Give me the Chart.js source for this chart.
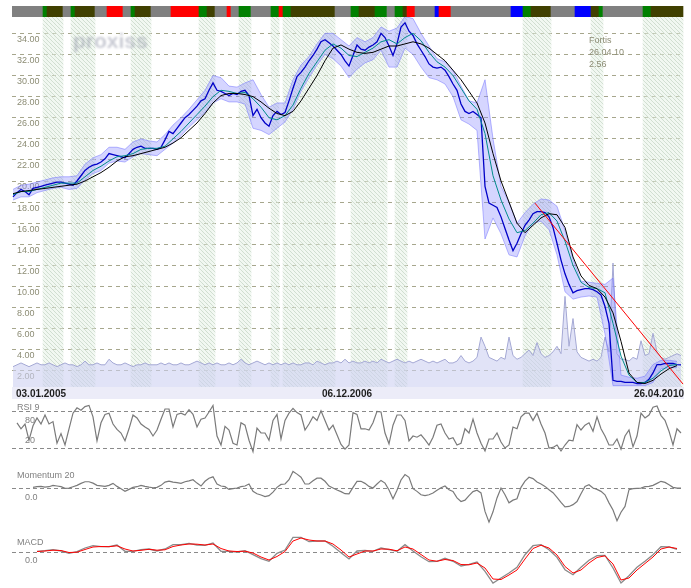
<!DOCTYPE html>
<html>
<head>
<meta charset="utf-8">
<script src="https://cdn.jsdelivr.net/npm/chart.js@4.4.1/dist/chart.umd.min.js"></script>
<style>
  body { margin: 0; background: #fff; }
  #wrap { position: relative; width: 691px; height: 588px; font-family: "Liberation Sans", Arial, sans-serif; }
  .box { position: absolute; left: 0; width: 691px; }
  .txt { position: absolute; font-size: 9px; line-height: 12px; color: #808080; white-space: nowrap; }
  #mark { position: absolute; left: 73px; top: 29px; font: bold 21px "Liberation Sans", Arial, sans-serif; color: rgba(135, 140, 160, 0.45); filter: blur(1.3px); }
</style>
</head>
<body>
<div id="wrap">
  <div class="box" style="top:0;height:17px"><canvas id="bandChart"></canvas></div>
  <div class="box" style="top:17px;height:382px"><canvas id="priceChart"></canvas></div>
  <div class="box" style="top:400px;height:62px"><canvas id="rsiChart"></canvas></div>
  <div class="box" style="top:462px;height:66px"><canvas id="momChart"></canvas></div>
  <div class="box" style="top:528px;height:60px"><canvas id="macdChart"></canvas></div>
  <div id="mark">proxiss</div>
  <div class="txt" id="quote" style="left:589px;top:34px;color:#8c8c74"></div>
  <div class="txt" style="left:17px;top:401px">RSI 9</div>
  <div class="txt" style="left:17px;top:469px">Momentum 20</div>
  <div class="txt" style="left:17px;top:536px">MACD</div>
</div>
<script>
// Fortis, 03.01.2005 - 26.04.2010 (one point = one bar slot on the x axis)

const quoteName = "Fortis";
const quoteDate = "26.04.10";
const dateLabels = ["03.01.2005", "06.12.2006", "26.04.2010"];
const dateIdx = [0, 82.75, 167];
const priceTicks = [2, 4, 6, 8, 10, 12, 14, 16, 18, 20, 22, 24, 26, 28, 30, 32, 34];

const close = [
  18.5, 18.9, 19.2, 19.0, 18.7, 19.3, 19.4, 19.5, 19.6, 19.7,
  19.8, 19.9, 19.9, 19.8, 19.7, 19.6, 20.0, 20.5, 21.0, 21.3,
  21.5, 21.6, 21.8, 22.1, 22.6, 22.5, 22.4, 22.3, 22.2, 22.6,
  23.0, 23.2, 23.3, 23.1, 23.1, 23.1, 23.0, 23.2, 23.9, 24.7,
  24.5, 25.0, 25.5, 26.0, 26.3, 26.7, 27.1, 27.6, 27.8, 28.6,
  29.3, 28.6, 28.5, 28.3, 28.1, 28.3, 28.2, 28.5, 28.6, 28.1,
  26.2, 26.8, 26.0, 25.5, 25.2, 26.2, 26.6, 26.3, 26.5, 27.6,
  28.8, 29.9, 30.3, 30.8, 31.4, 31.9, 32.5, 33.2, 33.4, 33.1,
  32.8, 32.4, 32.0, 31.4, 30.9, 31.9, 32.9, 32.5, 32.4, 32.7,
  32.9, 33.2, 34.0, 33.6, 32.8, 31.9, 33.0, 34.6, 35.0, 34.2,
  33.8, 33.0, 32.4, 31.8, 31.1, 30.8, 30.7, 30.8, 30.5, 29.9,
  29.2, 28.6, 27.3, 26.6, 26.4, 26.6, 26.3, 26.0, 19.5, 17.9,
  17.7, 17.5, 16.6, 15.5, 14.4, 13.4, 14.1, 15.0, 15.8, 16.3,
  16.9, 17.1, 17.1, 17.0, 16.6, 15.6, 14.1, 12.5, 11.2, 10.2,
  9.4, 9.6, 9.7, 9.8, 9.8, 9.7, 9.5, 9.2, 8.1, 6.5,
  1.1, 1.0, 1.0, 0.9, 0.9, 0.9, 0.8, 0.8, 0.9, 1.2,
  1.8, 2.6, 2.6, 2.7, 2.7, 2.7, 2.6, 2.56
];

// moving averages and envelope: one value every 2 slots
const maStep = 2;
const maFast = [
  18.7, 19.0, 19.0, 19.2, 19.4, 19.6, 19.8, 19.8, 19.8, 20.4,
  21.0, 21.4, 21.9, 22.3, 22.4, 22.6, 23.0, 23.1, 23.1, 23.3,
  24.0, 24.7, 25.5, 26.3, 27.1, 28.0, 28.6, 28.5, 28.3, 28.4,
  27.8, 27.0, 26.0, 25.8, 26.2, 27.2, 28.8, 30.2, 31.3, 32.4,
  33.0, 32.6, 31.9, 31.8, 32.2, 32.6, 33.2, 33.4, 33.0, 33.6,
  34.0, 33.3, 32.2, 31.3, 30.8, 30.0, 28.8, 27.6, 26.8, 24.5,
  20.5, 18.2, 16.4, 15.1, 15.3, 16.0, 16.8, 17.0, 16.2, 14.3,
  12.0, 10.4, 9.9, 9.8, 9.4, 6.5, 3.4, 1.6, 0.9, 0.9,
  1.3, 2.0, 2.5, 2.6
];
const maSlow = [
  18.8, 19.0, 19.1, 19.2, 19.3, 19.4, 19.5, 19.6, 19.7, 20.0,
  20.4, 20.8, 21.3, 21.9, 22.3, 22.4, 22.6, 22.8, 23.0, 23.2,
  23.6, 24.1, 24.8, 25.5, 26.4, 27.4, 28.1, 28.3, 28.3, 28.2,
  28.0, 27.5, 26.9, 26.4, 26.2, 26.6, 27.6, 28.8, 30.0, 31.4,
  32.6, 32.9, 32.5, 32.2, 32.1, 32.2, 32.5, 32.8, 32.8, 33.0,
  33.2, 33.0, 32.6, 32.0, 31.4, 30.5, 29.6, 28.5, 27.4, 25.5,
  22.6, 20.0, 18.0, 16.0, 15.1, 15.8, 16.5, 16.9, 16.8, 15.6,
  12.8, 11.0, 10.1, 9.8, 9.0, 7.5, 4.8, 1.8, 0.9, 0.8,
  1.1, 1.7, 2.2, 2.5
];
const bandUpper = [
  19.2, 19.6, 19.7, 19.9, 20.1, 20.3, 20.4, 20.4, 20.5, 21.6,
  22.2, 22.5, 23.2, 23.2, 23.0, 23.7, 24.0, 23.8, 23.7, 24.4,
  25.3, 26.0, 26.8, 27.7, 28.6, 30.0, 29.8, 29.0, 28.9, 29.3,
  29.6, 28.2, 27.0, 27.4, 27.4, 29.6, 31.0, 31.8, 33.0, 34.0,
  34.0, 33.4, 32.8, 33.6, 33.2, 33.6, 34.6, 34.2, 34.5, 35.6,
  35.4, 34.0, 32.8, 31.6, 31.3, 30.5, 29.0, 27.6, 27.4, 29.6,
  24.0, 19.5, 18.0, 16.0, 17.0, 17.8, 18.3, 18.2, 17.6, 15.3,
  12.6, 10.5, 10.4, 10.3, 10.2, 10.8, 1.6, 1.4, 1.3, 1.5,
  2.6, 3.0, 3.0, 2.9
];
const bandLower = [
  18.2, 18.5, 18.5, 18.9, 19.1, 19.3, 19.4, 19.2, 19.3, 20.1,
  20.7, 21.0, 21.7, 21.9, 21.8, 22.3, 22.6, 22.5, 22.4, 23.0,
  23.6, 24.3, 25.1, 25.8, 26.5, 27.4, 27.8, 27.5, 27.5, 27.3,
  25.0, 24.8, 24.4, 25.0, 25.6, 26.8, 28.5, 29.8, 31.0, 32.0,
  31.6, 30.9, 29.8, 30.6, 31.2, 31.5, 32.4, 30.8, 30.8, 32.6,
  32.0, 30.8, 29.8, 29.6, 29.2, 28.0, 25.8, 25.4, 24.8, 14.5,
  16.5, 15.0, 13.0, 12.8, 14.8, 16.0, 16.2, 15.4, 13.0, 9.5,
  8.8, 9.0, 9.1, 9.0, 5.5, 0.6, 0.6, 0.6, 0.6, 0.6,
  0.9, 2.2, 2.3, 2.3
];

const volume = [
  1.1, 1.2, 1.3, 1.2, 1.1, 1.2, 1.3, 1.2, 1.2, 1.3,
  1.2, 1.1, 1.2, 1.3, 1.2, 1.2, 1.1, 1.2, 1.4, 1.2,
  1.2, 1.3, 1.2, 1.2, 1.5, 1.3, 1.2, 1.2, 1.3, 1.2,
  1.1, 1.2, 1.2, 1.3, 1.2, 1.2, 1.2, 1.3, 1.2, 1.3,
  1.2, 1.2, 1.3, 1.2, 1.2, 1.3, 1.4, 1.3, 1.2, 1.3,
  1.2, 1.3, 1.2, 1.2, 1.3, 1.2, 1.3, 1.5, 1.3, 1.2,
  1.3, 1.4, 1.3, 1.2, 1.3, 1.2, 1.3, 1.2, 1.3, 1.2,
  1.3, 1.2, 1.2, 1.3, 1.3, 1.2, 1.4, 1.3, 1.2, 1.3,
  1.3, 1.4, 1.3, 1.5, 1.3, 1.4, 1.3, 1.3, 1.4, 1.3,
  1.4, 1.3, 1.5, 1.4, 1.3, 1.4, 1.5, 1.4, 1.3, 1.4,
  1.3, 1.4, 1.5, 1.4, 1.3, 1.4, 1.3, 1.4, 1.5, 1.3,
  1.3, 1.4, 1.7, 1.4, 1.3, 1.4, 1.6, 2.7, 2.2, 1.6,
  1.5, 1.4, 1.6, 1.5, 2.7, 1.7, 1.5, 1.6, 1.8, 2.0,
  1.7, 2.4, 1.8, 1.6, 1.7, 1.9, 2.2, 1.8, 4.9, 2.2,
  3.7, 1.9, 1.6, 1.5, 1.4, 1.5, 1.4, 1.6, 2.7, 1.9,
  6.7, 1.8, 1.5, 1.5, 1.4, 1.6, 1.5, 2.5, 1.7, 1.8,
  2.9, 1.9, 1.6, 1.5, 1.6, 1.7, 1.8, 1.7
];

const trendIdx = [130.5, 167.5];
const trendVal = [17.9, 0.75];

// signal strip on top: [code, number of slots]
const signalColors = { g: "#808080", G: "#008000", O: "#404000", R: "#ff0000", B: "#0000ff" };
const signalRuns = [
  ["g", 8], ["G", 1], ["O", 4], ["g", 2], ["G", 1], ["O", 5], ["g", 3], ["R", 4], ["g", 2], ["G", 1],
  ["O", 4], ["g", 5], ["R", 7], ["G", 2], ["O", 2], ["g", 3], ["R", 1], ["g", 2], ["G", 3], ["g", 5],
  ["G", 2], ["R", 1], ["G", 2], ["O", 11], ["g", 4], ["G", 2], ["O", 4], ["G", 3], ["g", 2], ["G", 2],
  ["O", 1], ["R", 2], ["g", 5], ["B", 1], ["R", 3], ["g", 15], ["B", 3], ["G", 2], ["O", 5], ["g", 6],
  ["B", 4], ["O", 2], ["G", 1], ["g", 10], ["G", 2], ["O", 8]
];

const rsiStart = 1;
const rsiLevels = [80, 20];
const rsi = [
  62, 52, 60, 33, 57, 70, 60, 75, 60,
  64, 28, 44, 25, 52, 78, 87, 83, 89, 91,
  72, 32, 62, 76, 78, 60, 51, 45, 32, 52,
  75, 70, 60, 55, 51, 40, 50, 68, 85, 85,
  55, 76, 78, 75, 84, 76, 55, 68, 70, 80,
  91, 40, 25, 56, 50, 28, 25, 62, 58, 33,
  14, 53, 45, 45, 33, 66, 76, 35, 66, 78,
  86, 79, 75, 50, 60, 72, 66, 82, 66, 50,
  58, 42, 26, 18, 25, 79, 76, 52, 52, 50,
  62, 81, 80, 45, 27, 58, 75, 75, 66, 32,
  40, 38, 42, 34, 25, 38, 58, 60, 45, 35,
  37, 25, 28, 52, 45, 68, 45, 28, 15, 35,
  35, 45, 30, 20, 25, 55, 52, 72, 78, 78,
  66, 78, 60, 45, 20, 21, 25, 15, 25, 33,
  32, 59, 50, 58, 62, 48, 72, 52, 40, 25,
  25, 35, 18, 40, 50, 22, 40, 78, 70, 75,
  88, 90, 74, 66, 48, 25, 52, 45
];

const momStart = 5;
const momentum = [
  0.15, 0.3, 0.37, 0.2, 0.3,
  0.6, 0.45, 0.3, -0.07, 0, 0.3, 0.6, 1.04, 1.4, 1.4,
  1.1, 0.6, 0.5, 0.37, 0.6, 1.04, 0.37, -0.15, -0.74, -0.3,
  0.15, 0.3, 0.6, 0.37, 0.2, 0.07, 0.15, 0.6, 1.33, 1.55,
  1.33, 1.2, 1.04, 1.4, 1.6, 1.85, 1.1, 0.45, 1.5, 2.2,
  2.5, 0.9, 0.45, 0.3, -0.3, -0.15, 0, 0.3, 0.45, 0.9,
  -0.74, -1.26, -1.55, -1.9, -1.7, -0.9, 0.15, 0.8, 0.9, 1.85,
  3.7, 3.1, 2.4, 0.9, 0.9, 1.6, 2.2, 2.2, 1.5, 0.45,
  0, -0.45, -0.8, -1.26, -1.3, 0.15, 1.5, 1.5, 1.04, 0.37,
  0, 0.9, 1.7, 1.1, -0.45, -2.4, -0.5, 1.8, 3.0, 2.4,
  -0.15, -0.74, -1.5, -1.7, -1.5, -1.1, -0.5, 0.07, 0.45, -0.37,
  -0.74, -2.2, -3.0, -2.7, -1.7, -0.8, -0.5, -1.1, -5.2, -7.6,
  -5.3, -2.2, 0, -1.5, -3.3, -2.7, -2.4, 0.15, 1.55, 2.4,
  2.1, 1.33, 0.9, 0.37, -0.37, -1.04, -2.1, -3.2, -4.2, -4.1,
  -3.7, -3.0, -1.26, 0.37, 0.74, 0, -0.3, -0.74, -1.5, -3.3,
  -4.9, -7.3, -5.4, -4.1, -0.37, -0.15, -0.07, 0, 0.3, 0.37,
  0.6, 1.04, 1.5, 1.26, 0.74, 0.15, 0, 0
];

const macdStart = 6;
const macdStep = 2;
const macd = [
  0.07, 0.13, 0.23, 0.1, -0.13, 0.03, 0.4, 0.63, 0.53, 0.53,
  0.7, 0.07, 0.07, 0.23, 0.3, 0.1, 0.3, 0.73, 0.73, 0.87,
  0.7, 0.67, 0.9, 0.07, 0.07, 0, 0.13, -0.27, -0.67, -0.93,
  -0.13, 0.2, 1.47, 1.47, 1.03, 1.1, 1.1, 0.57, -0.07, -0.7,
  0.1, 0.15, 0.07, 0.4, 0.23, 0.07, 0.73, 0.1, -0.47, -0.97,
  -0.93, -0.63, -0.93, -1.4, -1.23, -1.0, -1.93, -3.1, -2.6, -2.1,
  -1.53, -0.27, 0.63, 0.73, 0.23, -0.53, -1.77, -2.27, -1.53, -0.83,
  -0.37, -0.33, -1.6, -3.1, -2.37, -1.53, -0.93, -0.27, 0.53, 0.5,
  0.27
];
const macdSignal = [
  0.05, 0.1, 0.18, 0.15, -0.05, -0.02, 0.25, 0.5, 0.55, 0.53,
  0.62, 0.3, 0.1, 0.17, 0.27, 0.18, 0.22, 0.55, 0.7, 0.8,
  0.78, 0.7, 0.8, 0.35, 0.1, 0.05, 0.08, -0.1, -0.5, -0.8,
  -0.45, 0.05, 1.1, 1.4, 1.2, 1.1, 1.1, 0.8, 0.2, -0.5,
  -0.2, 0.1, 0.1, 0.3, 0.28, 0.12, 0.5, 0.3, -0.25, -0.8,
  -0.92, -0.75, -0.85, -1.25, -1.28, -1.1, -1.6, -2.7, -2.75, -2.3,
  -1.8, -0.7, 0.35, 0.68, 0.4, -0.3, -1.45, -2.1, -1.8, -1.1,
  -0.55, -0.38, -1.2, -2.8, -2.6, -1.8, -1.15, -0.5, 0.3, 0.5,
  0.35
];

Chart.defaults.font.family = '"Liberation Sans", Arial, sans-serif';

function series(values, start, step) {
  return values.map((v, k) => ({ x: start + k * step, y: v }));
}

const cells = [];
signalRuns.forEach(([code, n]) => {
  for (let k = 0; k < n; k++) cells.push(code);
});

const common = {
  responsive: true,
  maintainAspectRatio: false,
  animation: false,
  events: [],
  elements: { point: { radius: 0 }, line: { tension: 0 } },
  plugins: { legend: { display: false }, tooltip: { enabled: false } },
};

// axes take no room: labels sit inside the plot
function flatY(s) {
  s.width = 0;
  s.paddingTop = 0;
  s.paddingBottom = 0;
}

function hiddenX() {
  return { type: "linear", min: -0.25, max: 167.75, offset: false, display: false };
}

function hatch() {
  const c = document.createElement("canvas");
  c.width = 4;
  c.height = 4;
  const g = c.getContext("2d");
  g.fillStyle = "rgba(226, 240, 226, 0.45)";
  g.fillRect(0, 0, 4, 4);
  g.strokeStyle = "rgba(196, 212, 196, 0.7)";
  g.lineWidth = 1;
  g.beginPath();
  g.moveTo(-1, -1);
  g.lineTo(5, 5);
  g.stroke();
  return g.createPattern(c, "repeat");
}

function levelAxis(min, max, value, offset) {
  return {
    position: "left",
    min: min,
    max: max,
    afterBuildTicks: (s) => { s.ticks = [{ value: value }]; },
    afterFit: flatY,
    grid: { color: "#8a8a8a", drawTicks: false },
    border: { display: false, dash: [4, 3] },
    ticks: {
      mirror: true,
      padding: 13,
      labelOffset: offset,
      color: "#808080",
      font: { size: 9 },
      callback: (v) => (Math.abs(max) > 50 ? String(v) : v.toFixed(1)),
    },
  };
}

const axisShade = {
  id: "axisShade",
  beforeDraw(chart) {
    const s = chart.scales.x;
    const ctx = chart.ctx;
    ctx.save();
    ctx.fillStyle = "#ececf8";
    ctx.fillRect(s.left, s.top, s.right - s.left, s.bottom - s.top);
    ctx.restore();
  },
};

// top signal strip
new Chart(document.getElementById("bandChart"), {
  type: "bar",
  data: {
    datasets: [{
      data: cells.map((c, i) => ({ x: i, y: 1 })),
      backgroundColor: cells.map((c) => signalColors[c]),
      borderWidth: 0,
      barPercentage: 1,
      categoryPercentage: 1,
    }],
  },
  options: {
    ...common,
    layout: { padding: { left: 12, right: 7, top: 6, bottom: 0 } },
    scales: { x: hiddenX(), y: { display: false, min: 0, max: 1 } },
  },
});

// price chart
new Chart(document.getElementById("priceChart"), {
  type: "line",
  data: {
    datasets: [
      { label: "Trend", data: trendIdx.map((x, k) => ({ x: x, y: trendVal[k] })), borderColor: "#ff0000", borderWidth: 1, order: 1 },
      { label: "MA slow", data: series(maSlow, 0, maStep), borderColor: "#000000", borderWidth: 1, order: 2 },
      { label: "MA fast", data: series(maFast, 0, maStep), borderColor: "#008b8b", borderWidth: 1, order: 3 },
      { label: "Fortis", data: series(close, 0, 1), borderColor: "#0000c8", borderWidth: 1.3, order: 4 },
      { label: "Upper", data: series(bandUpper, 0, maStep), borderColor: "rgba(110, 110, 255, 0.5)", borderWidth: 1, backgroundColor: "rgba(135, 135, 255, 0.35)", fill: "+1", order: 6 },
      { label: "Lower", data: series(bandLower, 0, maStep), borderColor: "rgba(110, 110, 255, 0.5)", borderWidth: 1, fill: false, order: 6 },
      { label: "Volume", yAxisID: "yv", data: series(volume, 0, 1), borderColor: "#a4a8d4", borderWidth: 1, backgroundColor: "rgba(205, 208, 242, 0.6)", fill: "start", order: 7 },
      {
        type: "bar",
        label: "Signal",
        yAxisID: "ys",
        data: cells.map((c, i) => ({ x: i, y: c === "G" || c === "O" ? 1 : null })),
        backgroundColor: hatch(),
        borderWidth: 0,
        barPercentage: 1,
        categoryPercentage: 1,
        order: 9,
      },
    ],
  },
  options: {
    ...common,
    layout: { padding: { left: 12, right: 7, top: 0, bottom: 0 } },
    scales: {
      x: {
        type: "linear",
        min: -0.25,
        max: 167.75,
        offset: false,
        afterBuildTicks: (s) => { s.ticks = dateIdx.map((v) => ({ value: v })); },
        afterFit: (s) => { s.height = 12; s.paddingLeft = 0; s.paddingRight = 0; },
        grid: { display: false, drawTicks: false },
        border: { display: false },
        ticks: {
          autoSkip: false,
          maxRotation: 0,
          align: "inner",
          padding: 1,
          labelOffset: 3,
          color: "#1e1e1e",
          font: { size: 10, weight: "bold" },
          callback: (v, i) => dateLabels[i],
        },
      },
      y: {
        position: "left",
        min: 0.47,
        max: 35.55,
        afterBuildTicks: (s) => { s.ticks = priceTicks.map((v) => ({ value: v })); },
        afterFit: flatY,
        grid: { color: "#a6a68c", drawTicks: false },
        border: { display: false, dash: [4, 4] },
        ticks: { mirror: true, padding: 5, labelOffset: 6, color: "#8c8c74", font: { size: 9 }, callback: (v) => v.toFixed(2) },
      },
      yv: { display: false, min: 0, max: 20 },
      ys: { display: false, min: 0, max: 1 },
    },
  },
  plugins: [axisShade],
});

// RSI 9
new Chart(document.getElementById("rsiChart"), {
  type: "line",
  data: { datasets: [{ label: "RSI 9", data: series(rsi, rsiStart, 1), borderColor: "#7a7a7a", borderWidth: 1.2 }] },
  options: {
    ...common,
    layout: { padding: { left: 12, right: 7, top: 0, bottom: 2 } },
    scales: { x: hiddenX(), y: levelAxis(0, 100, rsiLevels[0], 9), y2: levelAxis(0, 100, rsiLevels[1], -7) },
  },
});

// Momentum 20
new Chart(document.getElementById("momChart"), {
  type: "line",
  data: { datasets: [{ label: "Momentum 20", data: series(momentum, momStart, 1), borderColor: "#7a7a7a", borderWidth: 1.2 }] },
  options: {
    ...common,
    layout: { padding: { left: 12, right: 7, top: 0, bottom: 0 } },
    scales: { x: hiddenX(), y: levelAxis(-8.9, 5.8, 0, 9) },
  },
});

// MACD
new Chart(document.getElementById("macdChart"), {
  type: "line",
  data: {
    datasets: [
      { label: "Signal", data: series(macdSignal, macdStart, macdStep), borderColor: "#ff0000", borderWidth: 1 },
      { label: "MACD", data: series(macd, macdStart, macdStep), borderColor: "#8a8a8a", borderWidth: 1.3 },
    ],
  },
  options: {
    ...common,
    layout: { padding: { left: 12, right: 7, top: 0, bottom: 0 } },
    scales: { x: hiddenX(), y: levelAxis(-3.6, 2.4, 0, 9) },
  },
});

document.getElementById("quote").innerHTML =
  `${quoteName}<br>${quoteDate}<br>${close[close.length - 1].toFixed(2)}`;
</script>
</body>
</html>
